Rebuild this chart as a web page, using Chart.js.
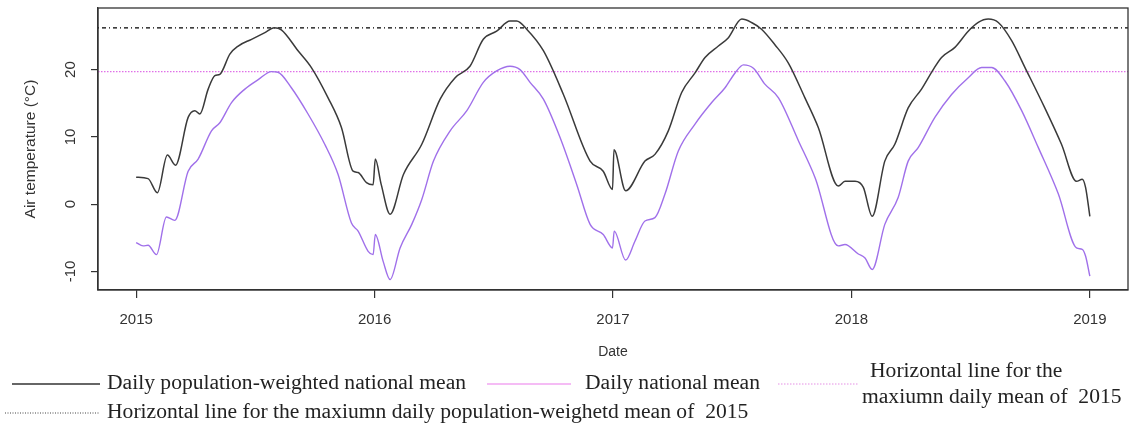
<!DOCTYPE html>
<html>
<head>
<meta charset="utf-8">
<script src="https://cdn.jsdelivr.net/npm/chart.js@4.4.1/dist/chart.umd.min.js"></script>
<style>
  html, body { margin: 0; padding: 0; background: #fff; }
  canvas { display: block; }
</style>
</head>
<body>
<canvas id="grafico" width="1137" height="436"></canvas>
<script>
// Daily population-weighted national mean (decimal year, °C)
const popYears = [2015.000, 2015.050, 2015.089, 2015.131, 2015.165, 2015.218, 2015.246, 2015.267, 2015.302, 2015.330, 2015.351, 2015.393, 2015.428, 2015.484, 2015.540, 2015.579, 2015.609, 2015.679, 2015.735, 2015.805, 2015.861, 2015.910, 2015.931, 2015.966, 2015.994,
  2016.003, 2016.028, 2016.065, 2016.121, 2016.198, 2016.275, 2016.338, 2016.400, 2016.456, 2016.512, 2016.568, 2016.596, 2016.638, 2016.708, 2016.792, 2016.904, 2016.959, 2016.998,
  2017.004, 2017.053, 2017.134, 2017.176, 2017.232, 2017.288, 2017.344, 2017.386, 2017.442, 2017.483, 2017.540, 2017.581, 2017.623, 2017.679, 2017.735, 2017.805, 2017.861, 2017.945, 2017.973,
  2018.015, 2018.050, 2018.087, 2018.140, 2018.182, 2018.238, 2018.294, 2018.343, 2018.378, 2018.434, 2018.490, 2018.532, 2018.574, 2018.616, 2018.672, 2018.728, 2018.811, 2018.881, 2018.944, 2018.968, 2018.982, 2019.000];
const popTemps = [4.0, 3.8, 1.7, 7.3, 5.8, 12.9, 13.9, 13.4, 17.1, 19.1, 19.3, 22.3, 23.5, 24.5, 25.5, 26.2, 25.9, 22.8, 20.3, 15.8, 11.4, 4.9, 4.7, 3.2, 2.9,
  6.7, 2.9, -1.5, 4.4, 8.9, 15.6, 18.8, 20.5, 24.5, 25.7, 27.2, 27.2, 26.0, 22.8, 16.3, 6.4, 4.9, 2.2,
  8.1, 2.0, 6.4, 7.4, 10.9, 16.6, 19.5, 21.8, 23.5, 24.7, 27.5, 27.0, 26.0, 23.7, 21.0, 15.8, 11.4, 2.7, 3.4,
  3.4, 2.5, -1.8, 6.4, 8.9, 14.3, 17.1, 20.0, 21.8, 23.3, 25.7, 27.0, 27.5, 27.0, 24.3, 20.3, 14.3, 8.9, 3.4, 3.7, 2.5, -1.8];

// Daily national mean
const natYears = [2015.000, 2015.029, 2015.050, 2015.085, 2015.127, 2015.162, 2015.218, 2015.260, 2015.316, 2015.351, 2015.400, 2015.456, 2015.512, 2015.567, 2015.595, 2015.651, 2015.721, 2015.791, 2015.847, 2015.903, 2015.931, 2015.973, 2015.994,
  2016.003, 2016.036, 2016.065, 2016.107, 2016.156, 2016.198, 2016.247, 2016.317, 2016.387, 2016.456, 2016.512, 2016.568, 2016.610, 2016.652, 2016.708, 2016.778, 2016.848, 2016.904, 2016.959, 2016.998,
  2017.005, 2017.053, 2017.092, 2017.134, 2017.176, 2017.218, 2017.274, 2017.344, 2017.414, 2017.470, 2017.512, 2017.547, 2017.589, 2017.638, 2017.694, 2017.778, 2017.848, 2017.945, 2017.973,
  2018.029, 2018.057, 2018.087, 2018.140, 2018.196, 2018.238, 2018.280, 2018.350, 2018.420, 2018.490, 2018.546, 2018.588, 2018.644, 2018.714, 2018.784, 2018.868, 2018.944, 2018.968, 2018.982, 2019.000];
const natTemps = [-5.7, -6.2, -6.1, -7.5, -1.9, -2.4, 4.9, 6.7, 10.9, 12.1, 15.1, 17.1, 18.5, 19.7, 19.6, 17.3, 13.4, 8.9, 4.4, -2.8, -4.0, -7.0, -7.5,
  -4.5, -8.5, -11.2, -6.5, -3.0, 0.7, 6.4, 10.9, 13.9, 18.1, 19.8, 20.5, 20.0, 18.1, 15.6, 9.9, 2.9, -3.0, -4.5, -6.5,
  -4.0, -8.3, -5.5, -2.5, -2.0, 1.5, 7.9, 11.9, 15.1, 17.3, 19.5, 20.7, 20.2, 17.8, 15.8, 9.4, 3.9, -6.2, -6.0,
  -7.4, -8.0, -9.7, -3.0, 1.0, 6.4, 8.4, 12.9, 16.3, 18.8, 20.3, 20.3, 18.3, 13.9, 8.4, 1.5, -6.5, -6.7, -7.7, -10.7];

const yearTicks = [2015, 2016, 2017, 2018, 2019];
const tempTicks = [-10, 0, 10, 20];

// maximos de 2015 para as linhas horizontais
const maxPop2015 = Math.max(...popTemps.filter((v, i) => popYears[i] < 2016));
const maxNat2015 = Math.max(...natTemps.filter((v, i) => natYears[i] < 2016));

// limites dos eixos (estilo R, 4% de margem)
const X_MIN = 2014.84, X_MAX = 2019.16;
const Y_MIN = -12.75, Y_MAX = 29.15;

const SANS = "'Liberation Sans', Arial, sans-serif";
const SERIF = "'Liberation Serif', 'Times New Roman', serif";

function pontos(xs, ys) {
  return xs.map((x, i) => ({ x: x, y: ys[i] }));
}

// legenda desenhada por baixo do grafico
const legendItems = [
  { label: ['Daily population-weighted national mean'], color: '#333', dash: [], width: 1.5, x1: 12, x2: 100, tx: [107], ty: [384] },
  { label: ['Daily national mean'], color: '#f2a6f2', dash: [], width: 1.5, x1: 487, x2: 571, tx: [585], ty: [384] },
  { label: ['Horizontal line for the', 'maxiumn daily mean of  2015'], color: '#e590e5', dash: [1.5, 1.5], width: 1, x1: 778, x2: 858, tx: [870, 862], ty: [372, 398], ly: 384 },
  { label: ['Horizontal line for the maxiumn daily population-weighetd mean of  2015'], color: '#444', dash: [1, 1.5], width: 1, x1: 5, x2: 100, tx: [107], ty: [413] }
];

const pluginDesenho = {
  id: 'desenhoR',
  beforeDraw(chart) {
    const ctx = chart.ctx;
    ctx.save();
    ctx.fillStyle = '#fff';
    ctx.fillRect(0, 0, chart.width, chart.height);
    ctx.restore();
  },
  afterDraw(chart) {
    const ctx = chart.ctx;
    const a = chart.chartArea;
    const yScale = chart.scales.y;

    // caixa à volta da area
    ctx.save();
    ctx.strokeStyle = '#333';
    ctx.lineWidth = 1.3;
    ctx.strokeRect(a.left, a.top, a.right - a.left, a.bottom - a.top);

    // etiquetas do eixo y, rodadas
    ctx.fillStyle = '#333';
    ctx.font = '15px ' + SANS;
    ctx.textAlign = 'center';
    ctx.textBaseline = 'middle';
    yScale.ticks.forEach(t => {
      const py = yScale.getPixelForValue(t.value);
      ctx.save();
      ctx.translate(71, py);
      ctx.rotate(-Math.PI / 2);
      ctx.fillText(String(t.value), 0, 0);
      ctx.restore();
    });

    // legenda
    ctx.font = '20px ' + SERIF;
    const escala = 359 / ctx.measureText(legendItems[0].label[0]).width;
    ctx.textAlign = 'left';
    legendItems.forEach(item => {
      const ly = item.ly || item.ty[0];
      ctx.beginPath();
      ctx.setLineDash(item.dash);
      ctx.strokeStyle = item.color;
      ctx.lineWidth = item.width;
      ctx.moveTo(item.x1, ly);
      ctx.lineTo(item.x2, ly);
      ctx.stroke();
      ctx.setLineDash([]);
      ctx.fillStyle = '#222';
      item.label.forEach((txt, i) => {
        ctx.save();
        ctx.translate(item.tx[i], item.ty[i]);
        ctx.scale(escala, 1);
        ctx.fillText(txt, 0, 0);
        ctx.restore();
      });
    });
    ctx.restore();
  }
};

new Chart(document.getElementById('grafico'), {
  type: 'line',
  data: {
    datasets: [
      {
        label: 'Daily population-weighted national mean',
        data: pontos(popYears, popTemps),
        borderColor: '#3a3a3a',
        borderWidth: 1.5,
        cubicInterpolationMode: 'monotone'
      },
      {
        label: 'Daily national mean',
        data: pontos(natYears, natTemps),
        borderColor: '#a070ea',
        borderWidth: 1.4,
        cubicInterpolationMode: 'monotone'
      },
      {
        label: 'Horizontal line for the maxiumn daily mean of 2015',
        data: [{ x: X_MIN, y: maxNat2015 }, { x: X_MAX, y: maxNat2015 }],
        borderColor: '#e070e8',
        borderWidth: 1.2,
        borderDash: [1.5, 1.5]
      },
      {
        label: 'Horizontal line for the maxiumn daily population-weighetd mean of 2015',
        data: [{ x: X_MIN, y: maxPop2015 }, { x: X_MAX, y: maxPop2015 }],
        borderColor: '#000',
        borderWidth: 1.2,
        borderDash: [1, 3, 4, 3]
      }
    ]
  },
  options: {
    responsive: false,
    animation: false,
    layout: { padding: { left: 0, right: 9, top: 8, bottom: 71 } },
    elements: { point: { radius: 0 } },
    plugins: { legend: { display: false }, tooltip: { enabled: false } },
    scales: {
      x: {
        type: 'linear',
        min: X_MIN,
        max: X_MAX,
        afterBuildTicks: s => { s.ticks = yearTicks.map(v => ({ value: v })); },
        afterFit: s => { s.height = 75; },
        grid: { drawOnChartArea: false, drawTicks: true, tickLength: 8, color: '#333', lineWidth: 1.2 },
        border: { display: true, color: '#333', width: 1.3 },
        ticks: { color: '#333', font: { family: SANS, size: 15 }, padding: 13, maxRotation: 0, callback: v => String(v) },
        title: { display: true, text: 'Date', color: '#333', font: { family: SANS, size: 14 }, padding: { top: 9 } }
      },
      y: {
        type: 'linear',
        min: Y_MIN,
        max: Y_MAX,
        afterBuildTicks: s => { s.ticks = tempTicks.map(v => ({ value: v })); },
        afterFit: s => { s.width = 98; },
        grid: { drawOnChartArea: false, drawTicks: true, tickLength: 7, color: '#333', lineWidth: 1.2 },
        border: { display: true, color: '#333', width: 1.3 },
        ticks: { display: false },
        title: { display: true, text: 'Air temperature (°C)', color: '#333', font: { family: SANS, size: 15.5 }, padding: { top: 21, bottom: 0 } }
      }
    }
  },
  plugins: [pluginDesenho]
});
</script>
</body>
</html>
